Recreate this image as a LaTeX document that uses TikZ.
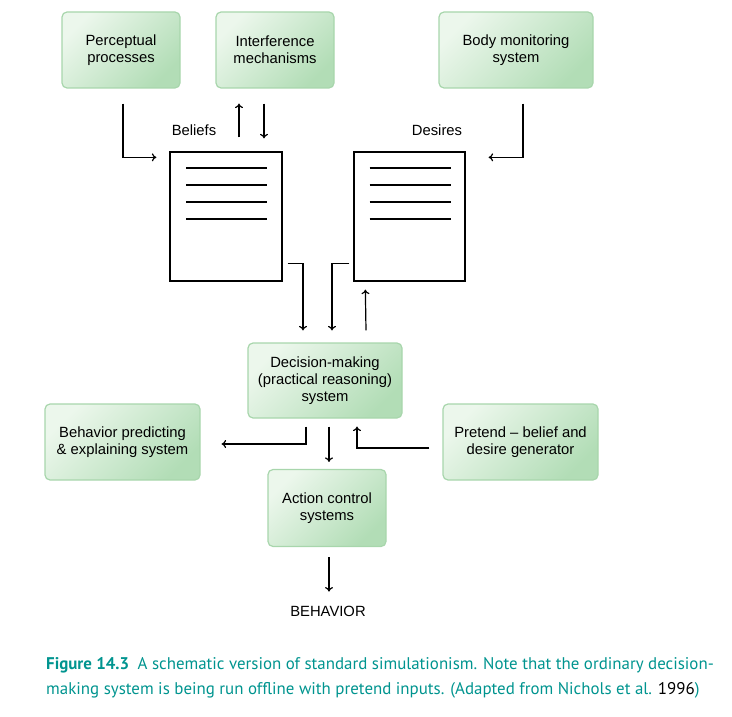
\documentclass[tikz,border=0pt]{standalone}
\usepackage{fontspec}
\setmainfont{Liberation Sans}
\newfontfamily\capfont{PT Sans}
\usetikzlibrary{arrows.meta}
\definecolor{boxlight}{RGB}{236,247,236}
\definecolor{boxdark}{RGB}{178,221,182}
\definecolor{boxline}{RGB}{168,214,172}
\definecolor{capteal}{RGB}{0,148,143}

\begin{document}
\begin{tikzpicture}[x=1pt, y=-1pt,
	module/.style={draw=boxline, line width=1.2pt, rounded corners=5pt,
		top color=boxlight, bottom color=boxdark, shading angle=45,
		align=center, inner sep=0pt, font=\fontsize{14.8}{17}\selectfont},
	doc/.style={draw, line width=1.3pt, inner sep=0pt, minimum height=129pt},
	arr/.style={-{To[length=4.5pt,width=8pt]}, line width=1.2pt},
	lbl/.style={inner sep=0pt, font=\fontsize{14.8}{17}\selectfont}]
	\useasboundingbox (0,0) rectangle (732,717);

	% top row
	\node[module, minimum width=118pt, minimum height=76pt] at (121,50)(percept){Perceptual\\processes};
	\node[module, minimum width=118pt, minimum height=76pt] at (275,50)(interf){Interference\\mechanisms};
	\node[module, minimum width=154pt, minimum height=76pt] at (516,50)(body){Body monitoring\\system};

	% belief and desire boxes
	\node[doc, minimum width=112pt] at (226,216.5)(beliefs){};
	\node[doc, minimum width=111pt] at (409.5,216.5)(desires){};
	\foreach \d in {beliefs,desires}
		\foreach \k in {0,...,3}
			\draw[line width=1.3pt] ([shift={(-40,-48.5+17*\k)}]\d.center) -- ++(81,0);
	\node[lbl] at (194,130)(blabel){Beliefs};
	\node[lbl] at (437,130)(dlabel){Desires};

	% lower part
	\node[module, minimum width=154pt, minimum height=75pt] at (325,380.5)(decision){Decision-making\\(practical reasoning)\\system};
	\node[module, minimum width=155pt, minimum height=76pt] at (122.5,442)(behav){Behavior predicting\\\& explaining system};
	\node[module, minimum width=155pt, minimum height=76pt] at (520.5,442)(pretend){Pretend -- belief and\\desire generator};
	\node[module, minimum width=118pt, minimum height=77pt] at (327,508)(action){Action control\\systems};
	\node[lbl] at (328,611)(behavior){BEHAVIOR};

	% connectors
	\draw[arr] ([shift={(2,15)}]percept.south) |- ([shift={(-13,6)}]beliefs.north west);
	\draw[arr] ([shift={(13,-14)}]beliefs.north) -- ([shift={(-36,15)}]interf.south);
	\draw[arr] ([shift={(-11,15)}]interf.south) -- ([shift={(38,-13)}]beliefs.north);
	\draw[arr] ([shift={(7,15)}]body.south) |- ([shift={(23,6)}]desires.north east);
	\draw[arr] ([shift={(5,-18)}]beliefs.south east) -| ([shift={(-22,-12)}]decision.north);
	\draw[arr] ([shift={(-4,-18)}]desires.south west) -| ([shift={(7,-12)}]decision.north);
	\draw[arr] ([shift={(41,-12)}]decision.north) -- ([shift={(12,8)}]desires.south west);
	\draw[arr] ([shift={(-19,8)}]decision.south) |- ([shift={(21,2)}]behav.east);
	\draw[arr] ([shift={(4,8)}]decision.south) -- ([shift={(2,-7)}]action.north);
	\draw[arr] ([shift={(-13,6)}]pretend.west) -| ([shift={(32,8)}]decision.south);
	\draw[arr] ([shift={(2,10)}]action.south) -- ([shift={(1,-14)}]behavior.north);

	% caption
	\node[anchor=west, align=left, inner sep=0pt, text=capteal,
		font=\capfont\fontsize{16.9}{25}\selectfont] at (46,677.5)(caption)
		{\textbf{Figure 14.3}\enspace A schematic version of standard simulationism. Note that the ordinary decision-\\
		making system is being run offline with pretend inputs. (Adapted from Nichols et al. {\color{black}1996})};
\end{tikzpicture}
\end{document}
